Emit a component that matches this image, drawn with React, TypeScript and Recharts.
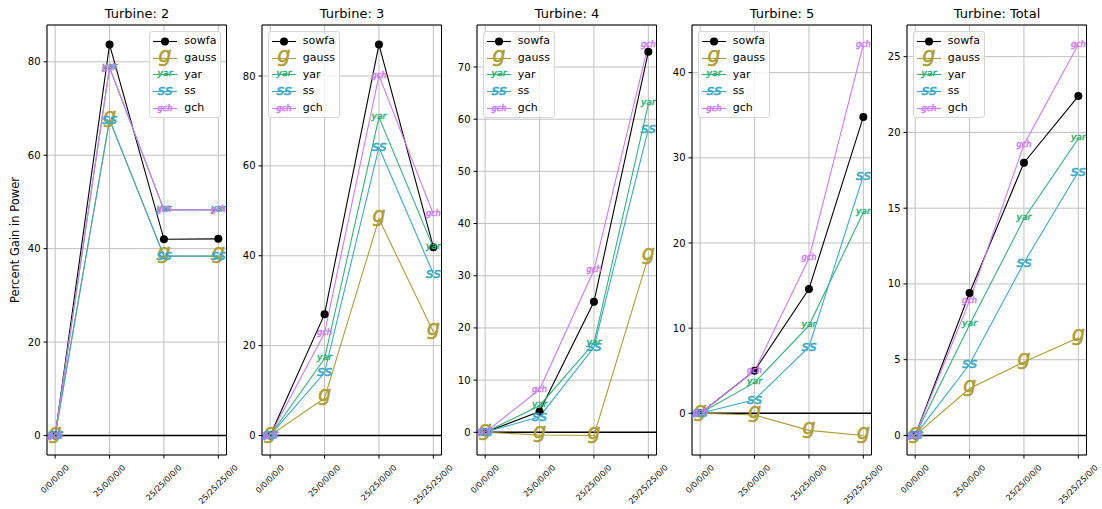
import React from "react";
import {
  LineChart,
  Line,
  XAxis,
  YAxis,
  CartesianGrid,
  ReferenceLine,
  ReferenceArea,
  Legend,
} from "recharts";

// yaw cases (x axis) and panels
const CASES = ["0/0/0/0/0", "25/0/0/0/0", "25/25/0/0/0", "25/25/25/0/0"];
const TURBINES = ["2", "3", "4", "5", "Total"];

// percent gain in power, one row per turbine panel
const SOWFA = [
  [0, 83.7, 42.0, 42.1],
  [0, 27.0, 87.0, 41.9],
  [0, 4.0, 25.0, 72.9],
  [0, 5.0, 14.6, 34.8],
  [0, 9.4, 18.0, 22.4],
];
const GAUSS = [
  [0, 67.6, 38.4, 38.4],
  [0, 8.3, 48.2, 23.0],
  [0, -0.5, -0.6, 33.6],
  [0, -0.2, -2.0, -2.6],
  [0, 3.1, 4.85, 6.45],
];
const YAR = [
  [0, 78.8, 48.3, 48.3],
  [0, 17.1, 70.8, 41.8],
  [0, 5.1, 17.1, 62.9],
  [0, 3.6, 10.3, 23.6],
  [0, 7.3, 14.3, 19.6],
];
const SS = [
  [0, 67.6, 38.4, 38.4],
  [0, 14.0, 64.1, 36.0],
  [0, 3.0, 16.3, 58.1],
  [0, 1.6, 7.8, 27.9],
  [0, 4.7, 11.4, 17.4],
];
const GCH = [
  [0, 78.8, 48.3, 48.3],
  [0, 22.8, 80.1, 49.3],
  [0, 8.2, 31.1, 74.3],
  [0, 5.0, 18.2, 43.3],
  [0, 8.9, 19.2, 25.8],
];

const Y_TICKS = [
  [0, 20, 40, 60, 80],
  [0, 20, 40, 60, 80],
  [0, 10, 20, 30, 40, 50, 60, 70],
  [0, 10, 20, 30, 40],
  [0, 5, 10, 15, 20, 25],
];

const SERIES = [
  { key: "sowfa", name: "sowfa", color: "#000000", values: SOWFA },
  { key: "gauss", name: "gauss", color: "#ae9d31", values: GAUSS },
  { key: "yar", name: "yar", color: "#33b07a", values: YAR },
  { key: "ss", name: "ss", color: "#38a9c5", values: SS },
  { key: "gch", name: "gch", color: "#cc7af4", values: GCH },
];

const MARK: Record<string, { text: string; fs: number; dy: number }> = {
  gauss: { text: "g", fs: 21, dy: 0.155 },
  yar: { text: "yar", fs: 9.2, dy: 0.155 },
  ss: { text: "ss", fs: 14.5, dy: 0.27 },
  gch: { text: "gch", fs: 8.2, dy: 0.26 },
};

const FONT = "'DejaVu Sans', sans-serif";
const PLOT_W = 179.5;
const PLOT_TOP = 25;
const PLOT_BOTTOM = 455;
const Y_AXIS_W = 45;
const RIGHT_PAD = 25;

function drawMarker(key: string, x: number, y: number, color: string) {
  if (key === "sowfa") return <circle cx={x} cy={y} r={4} fill="#000" />;
  const m = MARK[key];
  return (
    <text
      x={x}
      y={y + m.dy * m.fs}
      textAnchor="middle"
      fontSize={m.fs}
      fontStyle="italic"
      fill={color}
      stroke={color}
      strokeWidth={0.5}
    >
      {m.text}
    </text>
  );
}

const CaseTick = (props: any) => {
  const { x, y, payload } = props;
  const label = CASES[payload.value] ?? "";
  const fs = 8;
  const len = label.split("").reduce((a: number, c: string) => a + (c === "/" ? 0.337 : 0.636), 0) * fs;
  const w = (len + fs) * 0.7071;
  const cy = y + 3 + w / 2;
  return (
    <text
      x={x}
      y={cy}
      transform={`rotate(-45 ${x} ${cy})`}
      textAnchor="middle"
      dominantBaseline="central"
      fontSize={fs}
      fill="#000"
    >
      {label}
    </text>
  );
};

const LegendBox = () => (
  <div
    style={{
      width: 72,
      height: 87,
      boxSizing: "border-box",
      border: "1px solid #d6d6d6",
      borderRadius: 3,
      background: "rgba(255,255,255,0.8)",
      paddingTop: 1,
      fontFamily: FONT,
    }}
  >
    {SERIES.map((s) => (
      <div key={s.key} style={{ display: "flex", alignItems: "center", height: 16.7 }}>
        <svg width={30} height={17} style={{ overflow: "visible" }}>
          <line x1={3} x2={27} y1={8.5} y2={8.5} stroke={s.color} strokeWidth={1.1} />
          {drawMarker(s.key, 15, 8.5, s.color)}
        </svg>
        <span style={{ fontSize: 11, marginLeft: 4, color: "#000", lineHeight: "16px" }}>{s.name}</span>
      </div>
    ))}
  </div>
);

function Panel({ idx }: { idx: number }) {
  const plotLeft = 47.3 + 215 * idx;
  const data = CASES.map((_, i) => {
    const row: Record<string, number> = { x: i };
    SERIES.forEach((s) => (row[s.key] = s.values[idx][i]));
    return row;
  });
  const all = SERIES.flatMap((s) => s.values[idx]);
  const lo = Math.min(...all);
  const hi = Math.max(...all);
  const pad = (hi - lo) * 0.05;
  const yDomain: [number, number] = [lo - pad, hi + pad];
  const legendLeft = idx === 0 ? Y_AXIS_W + PLOT_W - 5.5 - 72 : Y_AXIS_W + 5.5;

  return (
    <div style={{ position: "absolute", left: plotLeft - Y_AXIS_W, top: 0 }}>
      <div
        style={{
          position: "absolute",
          left: Y_AXIS_W,
          top: 5.5,
          width: PLOT_W,
          textAlign: "center",
          fontSize: 13,
          lineHeight: "16px",
          whiteSpace: "nowrap",
        }}
      >
        Turbine: {TURBINES[idx]}
      </div>
      <LineChart
        width={Y_AXIS_W + PLOT_W + RIGHT_PAD}
        height={509}
        data={data}
        margin={{ top: PLOT_TOP, right: RIGHT_PAD, bottom: 0, left: 5 }}
      >
        <CartesianGrid stroke="#c0c0c0" strokeWidth={1} />
        <XAxis
          dataKey="x"
          type="number"
          domain={[-0.15, 3.15]}
          ticks={[0, 1, 2, 3]}
          interval={0}
          allowDataOverflow
          height={509 - PLOT_BOTTOM}
          axisLine={false}
          tickLine={{ stroke: "#000" }}
          tickSize={3.5}
          tick={<CaseTick />}
        />
        <YAxis
          type="number"
          domain={yDomain}
          ticks={Y_TICKS[idx]}
          allowDataOverflow
          width={40}
          axisLine={false}
          tickLine={{ stroke: "#000" }}
          tickSize={3.5}
          tickMargin={3}
          tick={{ fontSize: 10, fill: "#000" }}
        />
        <ReferenceArea
          x1={-0.15}
          x2={3.15}
          y1={yDomain[0]}
          y2={yDomain[1]}
          fill="none"
          stroke="#000"
          strokeWidth={1}
          ifOverflow="visible"
        />
        <ReferenceLine y={0} stroke="#000" strokeWidth={1.5} />
        {SERIES.map((s) => (
          <Line
            key={s.key}
            dataKey={s.key}
            name={s.name}
            type="linear"
            stroke={s.color}
            strokeWidth={1.1}
            isAnimationActive={false}
            activeDot={false}
            dot={(p: any) => (
              <g key={`${s.key}-${p.index}`}>
                {p.cx != null && p.cy != null ? drawMarker(s.key, p.cx, p.cy, s.color) : null}
              </g>
            )}
          />
        ))}
        <Legend
          layout="vertical"
          align="center"
          verticalAlign="middle"
          content={() => <LegendBox />}
          wrapperStyle={{ top: 31, left: legendLeft, width: 72, height: 87 }}
        />
      </LineChart>
    </div>
  );
}

export default function App() {
  return (
    <div
      style={{
        position: "absolute",
        left: 0,
        top: 0,
        width: 1102,
        height: 509,
        background: "#fff",
        fontFamily: FONT,
        color: "#000",
        overflow: "hidden",
      }}
    >
      <div
        style={{
          position: "absolute",
          left: 15,
          top: 240,
          transform: "translate(-50%, -50%) rotate(-90deg)",
          fontSize: 11.5,
          whiteSpace: "nowrap",
        }}
      >
        Percent Gain in Power
      </div>
      {TURBINES.map((_, i) => (
        <Panel key={i} idx={i} />
      ))}
    </div>
  );
}
